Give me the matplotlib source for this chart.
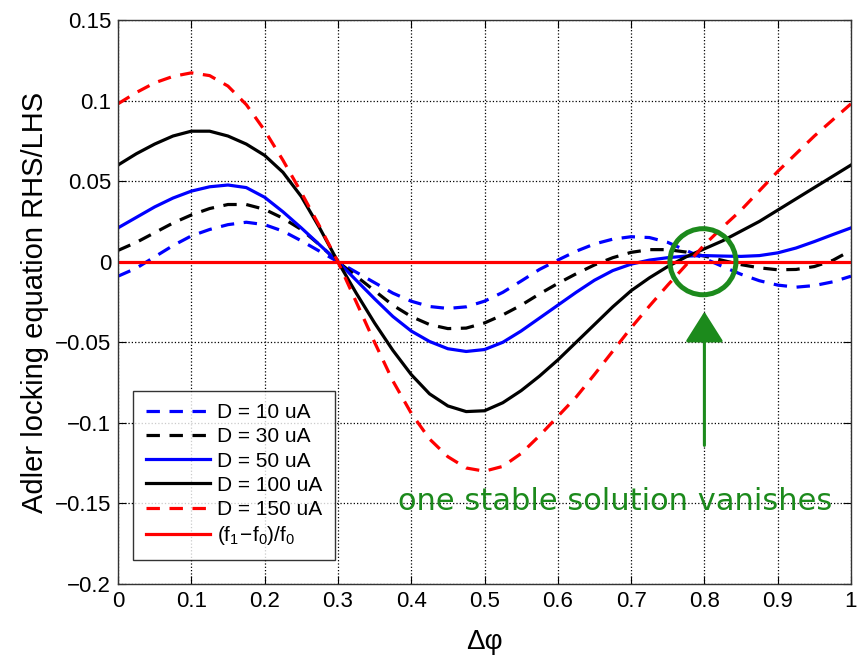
import matplotlib
matplotlib.use("Agg")
import matplotlib.pyplot as plt
from matplotlib.patches import Ellipse
import numpy as np

plt.rcParams['font.family'] = ['Liberation Sans', 'DejaVu Sans']
plt.rcParams['mathtext.default'] = 'regular'

# phase difference samples
dphi = np.round(np.arange(0, 1.0001, 0.025), 3)

d10 = [-0.009, -0.004, 0.003, 0.010, 0.016, 0.020, 0.023, 0.0245, 0.023, 0.019, 0.013, 0.0065, 0.0,
       -0.0065, -0.013, -0.0195, -0.0245, -0.0278, -0.029, -0.028, -0.0245, -0.019, -0.012, -0.0048,
       0.001, 0.0065, 0.011, 0.014, 0.0155, 0.015, 0.012, 0.007, 0.002, -0.003, -0.0078, -0.0118,
       -0.0145, -0.0158, -0.0148, -0.0125, -0.009]
d30 = [0.007, 0.012, 0.018, 0.024, 0.029, 0.033, 0.0355, 0.0355, 0.0325, 0.027, 0.020, 0.0105, 0.0,
       -0.009, -0.018, -0.027, -0.034, -0.039, -0.0415, -0.0412, -0.038, -0.033, -0.027, -0.020,
       -0.0135, -0.0075, -0.002, 0.0025, 0.0058, 0.0075, 0.0075, 0.006, 0.0035, 0.0008, -0.0018,
       -0.0038, -0.005, -0.0048, -0.003, 0.0008, 0.007]
d50 = [0.021, 0.0275, 0.034, 0.0395, 0.0438, 0.0465, 0.0476, 0.046, 0.040, 0.031, 0.021, 0.0105, 0.0,
       -0.0115, -0.023, -0.034, -0.043, -0.0495, -0.054, -0.0557, -0.0545, -0.050, -0.043, -0.035,
       -0.027, -0.019, -0.0115, -0.0055, -0.0015, 0.001, 0.0025, 0.0035, 0.0038, 0.0035, 0.0033,
       0.0038, 0.0055, 0.0085, 0.0125, 0.0168, 0.021]
d100 = [0.060, 0.067, 0.073, 0.078, 0.081, 0.081, 0.078, 0.073, 0.066, 0.0555, 0.0405, 0.021, 0.0,
        -0.0195, -0.038, -0.055, -0.070, -0.082, -0.0895, -0.093, -0.0925, -0.0875, -0.080, -0.071,
        -0.061, -0.050, -0.039, -0.028, -0.018, -0.010, -0.003, 0.003, 0.008, 0.013, 0.019, 0.025,
        0.032, 0.039, 0.046, 0.053, 0.060]
d150 = [0.098, 0.105, 0.111, 0.115, 0.1172, 0.1155, 0.109, 0.0975, 0.0815, 0.063, 0.043, 0.022, 0.0,
        -0.025, -0.050, -0.074, -0.094, -0.110, -0.121, -0.128, -0.130, -0.127, -0.119, -0.108,
        -0.096, -0.084, -0.070, -0.0555, -0.041, -0.0275, -0.0145, -0.002, 0.0105, 0.0215, 0.032,
        0.044, 0.056, 0.067, 0.078, 0.088, 0.098]
lhs = [0.0, 0.0]
lhs_x = [0.0, 1.0]

labels = ['D = 10 uA', 'D = 30 uA', 'D = 50 uA', 'D = 100 uA', 'D = 150 uA', r'$(f_1\!-\!f_0)/f_0$']

green = '#1c8a1c'

fig = plt.figure(figsize=(8.64, 6.55), dpi=100)
ax = fig.add_axes([118 / 864, 1 - 584 / 655, 733 / 864, 564 / 655])

lw = 2.3
dash = (0, (4.2, 3.0))
ax.plot(dphi, d10, color='b', lw=lw, ls=dash, label=labels[0])
ax.plot(dphi, d30, color='k', lw=lw, ls=dash, label=labels[1])
ax.plot(dphi, d50, color='b', lw=lw, label=labels[2])
ax.plot(dphi, d100, color='k', lw=lw, label=labels[3])
ax.plot(dphi, d150, color='r', lw=lw, ls=dash, label=labels[4])
ax.plot(lhs_x, lhs, color='r', lw=lw, label=labels[5])

ax.set_xlim(0, 1)
ax.set_ylim(-0.2, 0.15)
ax.set_xticks(np.arange(0, 1.01, 0.1))
ax.set_xticklabels(['0', '0.1', '0.2', '0.3', '0.4', '0.5', '0.6', '0.7', '0.8', '0.9', '1'])
ax.set_yticks([-0.2, -0.15, -0.1, -0.05, 0, 0.05, 0.1, 0.15])
ax.set_yticklabels(['\u22120.2', '\u22120.15', '\u22120.1', '\u22120.05', '0', '0.05', '0.1', '0.15'])
ax.tick_params(direction='in', top=True, right=True, length=6, labelsize=16, pad=5)
ax.grid(True, linestyle=':', color='k', linewidth=0.9)
for s in ax.spines.values():
    s.set_linewidth(1.0)
    s.set_color('#333333')

ax.set_xlabel('\u0394\u03c6', fontsize=20, labelpad=12)
ax.set_ylabel('Adler locking equation RHS/LHS', fontsize=21, labelpad=4)

leg = ax.legend(loc='lower left', bbox_to_anchor=(0.012, 0.032), fontsize=15, frameon=True,
                fancybox=False, edgecolor='k', handlelength=3.1, handletextpad=0.35,
                labelspacing=0.25, borderpad=0.6, borderaxespad=0.3)
leg.get_frame().set_linewidth(1.0)

# green circle round the vanishing solution
circ = Ellipse((0.798, 0.0), 66 / 733, 66 / 1610, fill=False, edgecolor=green, lw=3.6, zorder=5)
ax.add_patch(circ)

ax.annotate('', xy=(0.8, -0.031), xytext=(0.8, -0.114),
            arrowprops=dict(arrowstyle='-|>,head_length=1.9,head_width=1.2', color=green,
                            lw=2.2, shrinkA=0, shrinkB=0, mutation_scale=10))

ax.text(0.678, -0.1543, 'one stable solution vanishes', color=green, fontsize=22,
        family='DejaVu Sans', ha='center', va='baseline')

fig.savefig('out.png', dpi=100)
